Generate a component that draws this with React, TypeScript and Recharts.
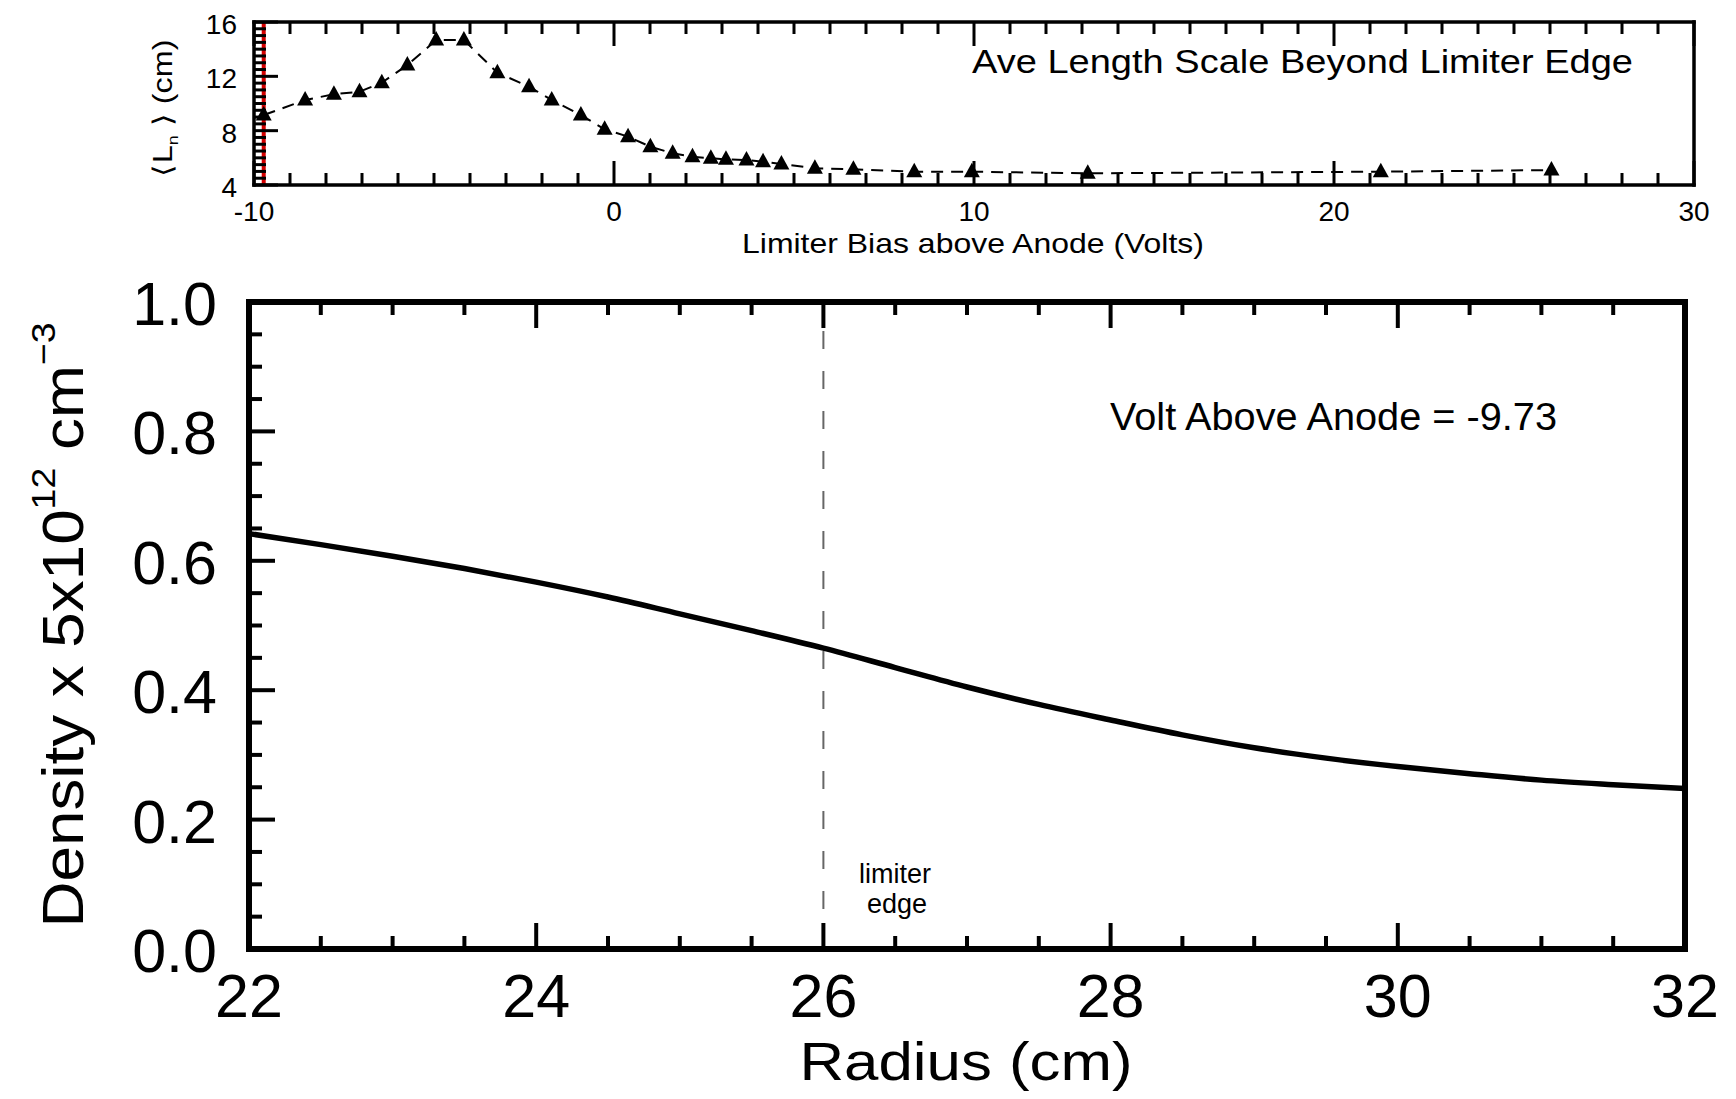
import React from "react";
import { LineChart, Line, XAxis, YAxis, ReferenceLine } from "recharts";

// top panel: average length scale vs limiter bias
const biasVolts = [
  -9.73, -8.58, -7.78, -7.07, -6.45, -5.74, -4.94, -4.17, -3.24, -2.36,
  -1.73, -0.92, -0.26, 0.39, 1.01, 1.63, 2.18, 2.69, 3.11, 3.68,
  4.14, 4.65, 5.58, 6.65, 8.34, 9.94, 13.16, 21.3, 26.04,
];
const lengthScale = [
  9.15, 10.26, 10.68, 10.87, 11.53, 12.83, 14.67, 14.67, 12.27, 11.24,
  10.26, 9.15, 8.1, 7.56, 6.82, 6.33, 6.08, 5.97, 5.89, 5.84,
  5.72, 5.55, 5.23, 5.16, 4.98, 4.98, 4.86, 4.98, 5.1,
];

// bottom panel: density profile
const radius = [
  22, 22.5, 23, 23.5, 24, 24.5, 25, 25.5, 26, 26.5, 27,
  27.5, 28, 28.5, 29, 29.5, 30, 30.5, 31, 31.5, 32,
];
const density = [
  0.642, 0.625, 0.607, 0.588, 0.567, 0.544, 0.518, 0.492, 0.465, 0.435, 0.405,
  0.378, 0.354, 0.331, 0.311, 0.295, 0.282, 0.271, 0.261, 0.254, 0.248,
];

const currentBias = -9.73;
const limiterEdge = 26;

const range = (a: number, b: number, step: number) => {
  const out: number[] = [];
  for (let v = a; v <= b + 1e-9; v += step) out.push(Math.round(v * 1000) / 1000);
  return out;
};
const isMult = (v: number, m: number) => Math.abs(v / m - Math.round(v / m)) < 1e-6;

const biasTicks = range(-10, 30, 1);
const lenTicks = range(4, 16, 0.5);
const radiusTicks = range(22, 32, 0.5);
const densityTicks = range(0, 1, 0.05);

const FONT = "'Liberation Sans', Arial, Helvetica, sans-serif";

type Side = "bottom" | "top" | "left" | "right";
interface TickOpts {
  side: Side;
  every: number;
  major: number;
  minor: number;
  width: number;
  fontSize?: number;
  gap?: number;
  shift?: number;
  fmt?: (v: number) => string;
}

function makeTick(o: TickOpts) {
  return (props: any) => {
    const { x, y, payload, index } = props;
    const v = payload.value as number;
    const major = isMult(v, o.every);
    const len = major ? o.major : o.minor;
    let x2 = x;
    let y2 = y;
    if (o.side === "bottom") y2 = y - len;
    else if (o.side === "top") y2 = y + len;
    else if (o.side === "left") x2 = x + len;
    else x2 = x - len;
    let label = null;
    if (major && o.fmt) {
      label =
        o.side === "bottom" ? (
          <text x={x} y={y + (o.gap || 0)} textAnchor="middle" fontSize={o.fontSize} fontFamily={FONT} fill="#000">
            {o.fmt(v)}
          </text>
        ) : (
          <text x={x - (o.gap || 0)} y={y + (o.shift || 0)} textAnchor="end" fontSize={o.fontSize} fontFamily={FONT} fill="#000">
            {o.fmt(v)}
          </text>
        );
    }
    return (
      <g key={`t-${o.side}-${index}`}>
        <line x1={x} y1={y} x2={x2} y2={y2} stroke="#000" strokeWidth={o.width} />
        {label}
      </g>
    );
  };
}

const Triangle = (props: any) => {
  const { cx, cy, index } = props;
  if (cx == null || cy == null) return <g key={`d-${index}`} />;
  return (
    <path
      key={`d-${index}`}
      d={`M${cx},${cy - 9} L${cx + 8},${cy + 5.5} L${cx - 8},${cy + 5.5} Z`}
      fill="#000"
    />
  );
};

const topData = biasVolts.map((v, i) => ({ bias: v, len: lengthScale[i] }));
const mainData = radius.map((r, i) => ({ r, density: density[i] }));

function TopPanel() {
  const axisLine = { stroke: "#000", strokeWidth: 3.5, strokeLinecap: "square" as const };
  return (
    <LineChart width={1736} height={260} data={topData} margin={{ top: 21, bottom: 74, left: 253, right: 41 }}>
      <XAxis
        xAxisId="b" dataKey="bias" type="number" domain={[-10, 30]} ticks={biasTicks} interval={0}
        height={1} tickSize={0} tickMargin={0} tickLine={false} axisLine={axisLine}
        tick={makeTick({ side: "bottom", every: 10, major: 24, minor: 12, width: 3, fontSize: 28, gap: 36, fmt: (v) => String(v) })}
      />
      <XAxis
        xAxisId="t" orientation="top" dataKey="bias" type="number" domain={[-10, 30]} ticks={biasTicks} interval={0}
        height={1} tickSize={0} tickMargin={0} tickLine={false} axisLine={axisLine}
        tick={makeTick({ side: "top", every: 10, major: 24, minor: 12, width: 3 })}
      />
      <YAxis
        yAxisId="l" type="number" domain={[4, 16]} ticks={lenTicks} interval={0}
        width={1} tickSize={0} tickMargin={0} tickLine={false} axisLine={axisLine}
        tick={makeTick({ side: "left", every: 4, major: 24, minor: 12, width: 3, fontSize: 28, gap: 17, shift: 12, fmt: (v) => String(v) })}
      />
      <YAxis
        yAxisId="r" orientation="right" type="number" domain={[4, 16]} ticks={lenTicks} interval={0}
        width={1} tickSize={0} tickMargin={0} tickLine={false} axisLine={axisLine}
        tick={makeTick({ side: "right", every: 4, major: 24, minor: 12, width: 3 })}
      />
      <ReferenceLine xAxisId="b" yAxisId="l" x={currentBias} stroke="#d40000" strokeWidth={4} />
      <Line
        xAxisId="b" yAxisId="l" dataKey="len" type="linear" stroke="#000" strokeWidth={2}
        strokeDasharray="12 8" dot={Triangle} activeDot={false} isAnimationActive={false}
      />
    </LineChart>
  );
}

function MainPanel() {
  const axisLine = { stroke: "#000", strokeWidth: 6, strokeLinecap: "square" as const };
  return (
    <LineChart width={1736} height={839} data={mainData} margin={{ top: 41, bottom: 149, left: 248, right: 50 }}>
      <XAxis
        xAxisId="b" dataKey="r" type="number" domain={[22, 32]} ticks={radiusTicks} interval={0}
        height={1} tickSize={0} tickMargin={0} tickLine={false} axisLine={axisLine}
        tick={makeTick({ side: "bottom", every: 2, major: 26, minor: 13, width: 4, fontSize: 61, gap: 68, fmt: (v) => String(v) })}
      />
      <XAxis
        xAxisId="t" orientation="top" dataKey="r" type="number" domain={[22, 32]} ticks={radiusTicks} interval={0}
        height={1} tickSize={0} tickMargin={0} tickLine={false} axisLine={axisLine}
        tick={makeTick({ side: "top", every: 2, major: 26, minor: 13, width: 4 })}
      />
      <YAxis
        yAxisId="l" type="number" domain={[0, 1]} ticks={densityTicks} interval={0}
        width={1} tickSize={0} tickMargin={0} tickLine={false} axisLine={axisLine}
        tick={makeTick({ side: "left", every: 0.2, major: 26, minor: 13, width: 4, fontSize: 61, gap: 32, shift: 23, fmt: (v) => v.toFixed(1) })}
      />
      <YAxis
        yAxisId="r" orientation="right" type="number" domain={[0, 1]} ticks={densityTicks} interval={0}
        width={1} tickSize={0} tickMargin={0} tickLine={false} axisLine={axisLine}
        tick={makeTick({ side: "right", every: 0.2, major: 26, minor: 13, width: 4 })}
      />
      <ReferenceLine xAxisId="b" yAxisId="l" x={limiterEdge} stroke="#666" strokeWidth={2} strokeDasharray="18 22" />
      <Line
        xAxisId="b" yAxisId="l" dataKey="density" type="monotone" stroke="#000" strokeWidth={5.5}
        dot={false} activeDot={false} isAnimationActive={false}
      />
    </LineChart>
  );
}

export default function App() {
  return (
    <div style={{ position: "absolute", left: 0, top: 0, width: 1736, height: 1099, background: "#fff", fontFamily: FONT }}>
      <div style={{ position: "absolute", left: 0, top: 0 }}>
        <TopPanel />
      </div>
      <div style={{ position: "absolute", left: 0, top: 260 }}>
        <MainPanel />
      </div>
      <svg width={1736} height={1099} style={{ position: "absolute", left: 0, top: 0, pointerEvents: "none" }} fontFamily={FONT}>
        {/* top panel labels */}
        <text x={972} y={73} fontSize={34} textLength={661} lengthAdjust="spacingAndGlyphs">
          Ave Length Scale Beyond Limiter Edge
        </text>
        <text x={973} y={253} fontSize={28} textAnchor="middle" textLength={462} lengthAdjust="spacingAndGlyphs">
          Limiter Bias above Anode (Volts)
        </text>
        <text x={172} y={108} fontSize={27} textAnchor="middle" transform="rotate(-90 172 108)" textLength={137} lengthAdjust="spacingAndGlyphs">
          ⟨L<tspan fontSize={15} dy={6}>n</tspan>
          <tspan dy={-6}> ⟩ (cm)</tspan>
        </text>
        {/* main panel labels */}
        <text x={1110} y={430} fontSize={38} textLength={447} lengthAdjust="spacingAndGlyphs">
          Volt Above Anode = -9.73
        </text>
        <text x={895} y={883} fontSize={27} textAnchor="middle">limiter</text>
        <text x={897} y={913} fontSize={27} textAnchor="middle">edge</text>
        <text x={966} y={1080} fontSize={54} textAnchor="middle" textLength={333} lengthAdjust="spacingAndGlyphs">
          Radius (cm)
        </text>
        <text x={83} y={625} fontSize={58} textAnchor="middle" transform="rotate(-90 83 625)" textLength={605} lengthAdjust="spacingAndGlyphs">
          Density x 5x10<tspan fontSize={34} dy={-28}>12</tspan>
          <tspan dy={28}> cm</tspan>
          <tspan fontSize={34} dy={-28}>−3</tspan>
        </text>
      </svg>
    </div>
  );
}
